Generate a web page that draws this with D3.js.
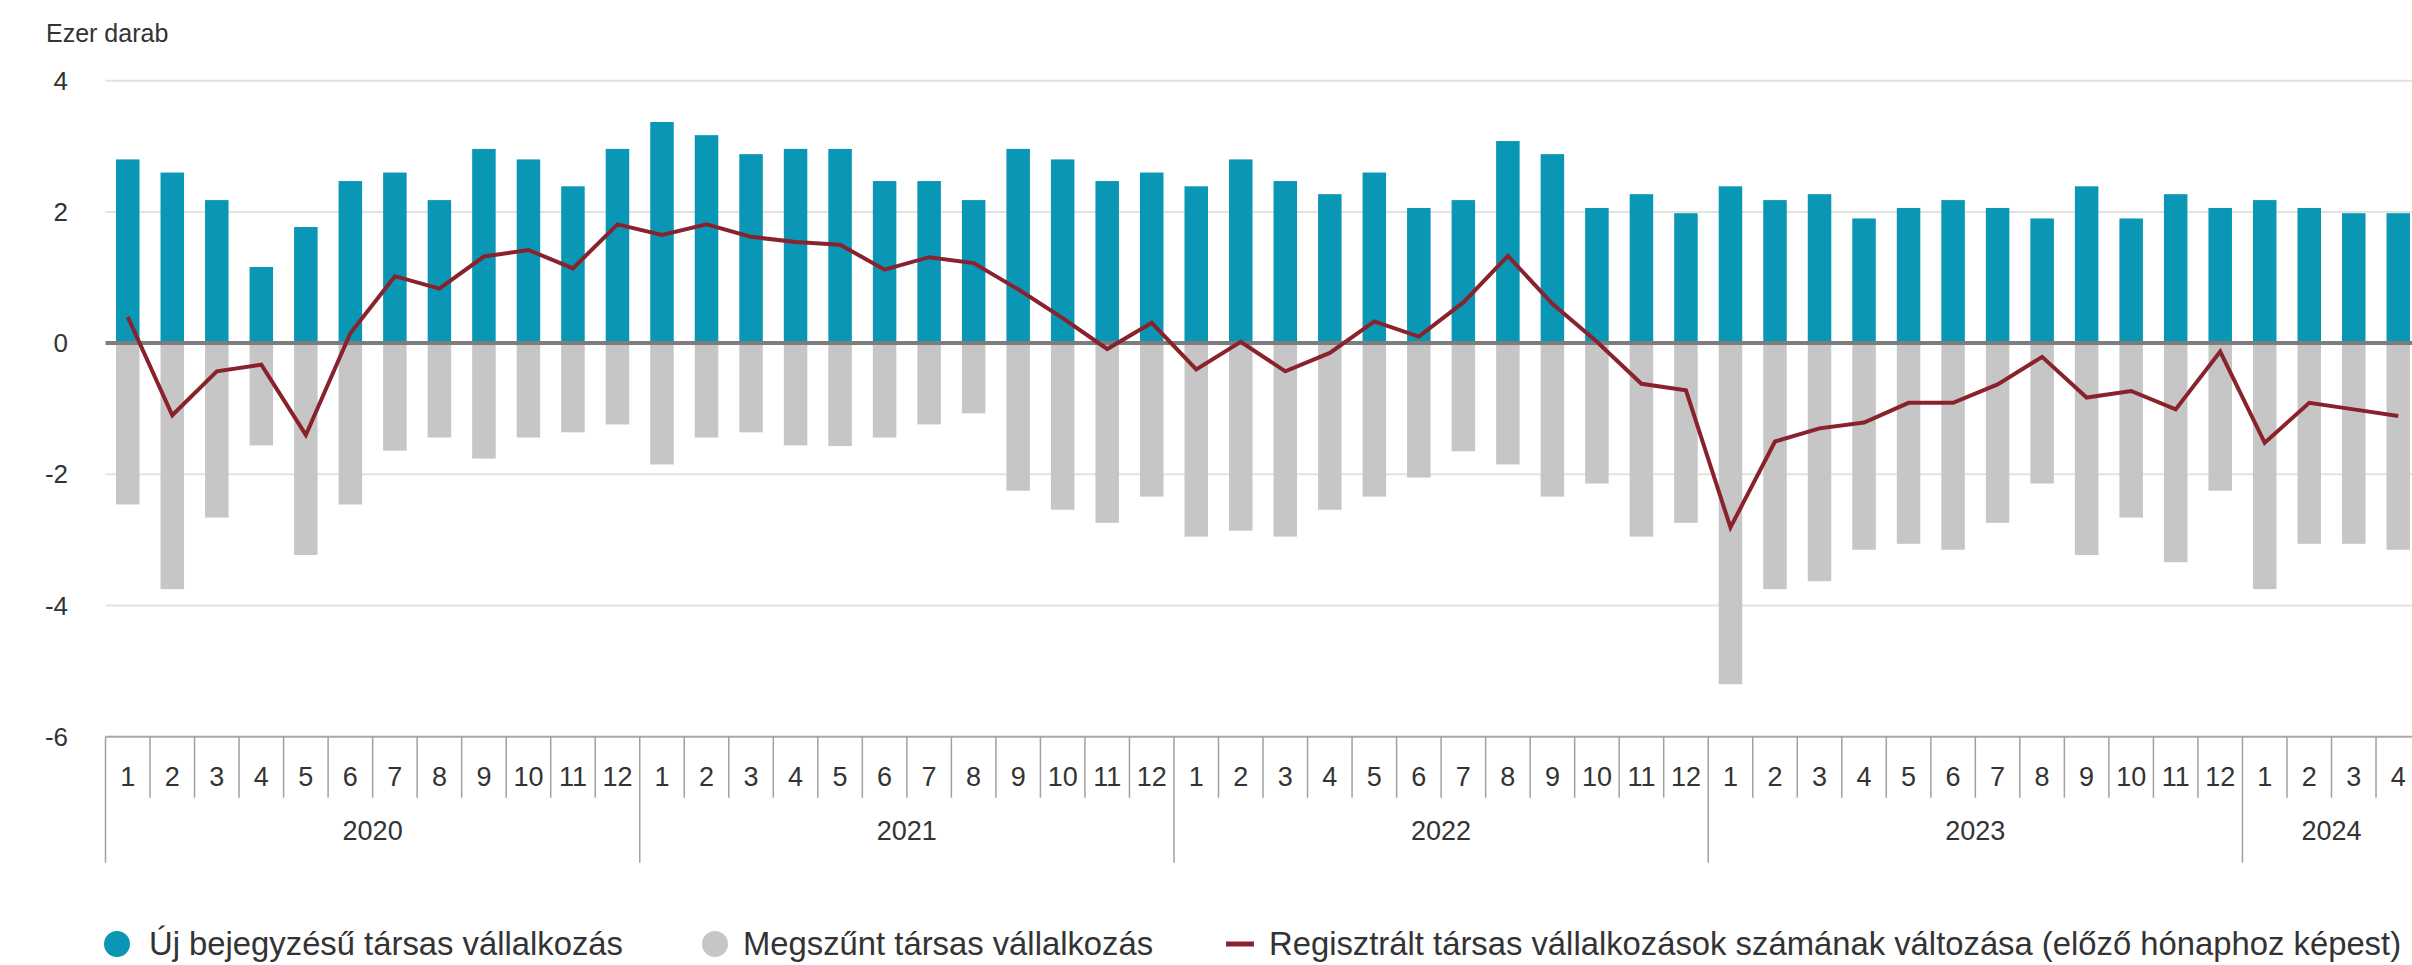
<!DOCTYPE html>
<html>
<head>
<meta charset="utf-8">
<script src="https://cdn.jsdelivr.net/npm/d3@7"></script>
<style>
  body { margin: 0; background: #fff; }
  text { font-family: "Liberation Sans", Arial, sans-serif; fill: #333; }
</style>
</head>
<body>
<div id="chart"></div>
<script>
// Havi adatok, ezer darab (2020.01 - 2024.04)
var years = [2020, 2021, 2022, 2023, 2024];
var monthsPerYear = [12, 12, 12, 12, 4];

var ujTarsas = [
  2.8, 2.6, 2.18, 1.16, 1.77, 2.47, 2.6, 2.18, 2.96, 2.8, 2.39, 2.96,
  3.37, 3.17, 2.88, 2.96, 2.96, 2.47, 2.47, 2.18, 2.96, 2.8, 2.47, 2.6,
  2.39, 2.8, 2.47, 2.27, 2.6, 2.06, 2.18, 3.08, 2.88, 2.06, 2.27, 1.98,
  2.39, 2.18, 2.27, 1.9, 2.06, 2.18, 2.06, 1.9, 2.39, 1.9, 2.27, 2.06,
  2.18, 2.06, 1.98, 1.98
];
var megszunt = [
  -2.46, -3.75, -2.66, -1.56, -3.23, -2.46, -1.64, -1.44, -1.76, -1.44, -1.36, -1.24,
  -1.85, -1.44, -1.36, -1.56, -1.57, -1.44, -1.24, -1.07, -2.25, -2.54, -2.74, -2.34,
  -2.95, -2.86, -2.95, -2.54, -2.34, -2.05, -1.65, -1.85, -2.34, -2.14, -2.95, -2.74,
  -5.2, -3.75, -3.63, -3.15, -3.06, -3.15, -2.74, -2.14, -3.23, -2.66, -3.34, -2.25,
  -3.75, -3.06, -3.06, -3.15
];
var valtozas = [
  0.4, -1.1, -0.43, -0.33, -1.4, 0.15, 1.02, 0.83, 1.32, 1.42, 1.14, 1.81,
  1.65, 1.81, 1.62, 1.54, 1.5, 1.12, 1.31, 1.22, 0.82, 0.38, -0.09, 0.31,
  -0.4, 0.02, -0.43, -0.15, 0.33, 0.1, 0.62, 1.33, 0.6, 0.02, -0.62, -0.72,
  -2.81, -1.5, -1.3, -1.21, -0.91, -0.91, -0.63, -0.21, -0.83, -0.73, -1.01, -0.13,
  -1.52, -0.91, -1.01, -1.11
];
var yTicks = [4, 2, 0, -2, -4, -6];

var seriesNames = [
  "Új bejegyzésű társas vállalkozás",
  "Megszűnt társas vállalkozás",
  "Regisztrált társas vállalkozások számának változása (előző hónaphoz képest)"
];
var colors = ["#0a96b5", "#c6c6c6", "#8a222d"];

// month keys like "2020-1"
var keys = [];
years.forEach(function(y, i) {
  for (var m = 1; m <= monthsPerYear[i]; m++) keys.push(y + "-" + m);
});

var width = 2412, height = 965;
var x0 = 105.5, step = 44.52;

var svg = d3.select("#chart").append("svg")
  .attr("width", width)
  .attr("height", height);

var x = d3.scaleBand()
  .domain(keys)
  .range([x0, x0 + step * keys.length])
  .paddingInner(0.472)
  .paddingOuter(0.236);

var y = d3.scaleLinear()
  .domain([-6, 4])
  .range([736.7, 80.7]);

// unit label
svg.append("text")
  .attr("x", 46)
  .attr("y", 42)
  .style("font-size", "25px")
  .text("Ezer darab");

// gridlines
svg.append("g").selectAll("line")
  .data(yTicks.filter(function(d) { return d !== 0 && d !== -6; }))
  .enter().append("line")
  .attr("x1", x0).attr("x2", width)
  .attr("y1", y).attr("y2", y)
  .style("stroke", "#e2e2e2")
  .style("stroke-width", "2px");

// y tick labels
svg.append("g").selectAll("text")
  .data(yTicks)
  .enter().append("text")
  .attr("x", 68)
  .attr("y", y)
  .attr("dy", "0.35em")
  .style("text-anchor", "end")
  .style("font-size", "26px")
  .text(function(d) { return d; });

// positive bars
svg.append("g").selectAll("rect")
  .data(ujTarsas)
  .enter().append("rect")
  .attr("x", function(d, i) { return x(keys[i]); })
  .attr("y", function(d) { return y(d); })
  .attr("width", x.bandwidth())
  .attr("height", function(d) { return y(0) - y(d); })
  .style("fill", colors[0]);

// negative bars
svg.append("g").selectAll("rect")
  .data(megszunt)
  .enter().append("rect")
  .attr("x", function(d, i) { return x(keys[i]); })
  .attr("y", y(0))
  .attr("width", x.bandwidth())
  .attr("height", function(d) { return y(d) - y(0); })
  .style("fill", colors[1]);

// zero line
svg.append("line")
  .attr("x1", x0).attr("x2", width)
  .attr("y1", y(0)).attr("y2", y(0))
  .style("stroke", "#7d7d7d")
  .style("stroke-width", "4px");

// net change line
var line = d3.line()
  .x(function(d, i) { return x(keys[i]) + x.bandwidth() / 2; })
  .y(function(d) { return y(d); });

svg.append("path")
  .datum(valtozas)
  .attr("d", line)
  .style("fill", "none")
  .style("stroke", colors[2])
  .style("stroke-width", "4px")
  .style("stroke-linejoin", "miter");

// bottom axis line
var axisY = y(-6);
svg.append("line")
  .attr("x1", x0).attr("x2", width)
  .attr("y1", axisY).attr("y2", axisY)
  .style("stroke", "#a8a8a8")
  .style("stroke-width", "2px");

// month separators and labels
var axis = svg.append("g");
keys.forEach(function(k, i) {
  var m = +k.split("-")[1];
  var left = x(k) - x.step() * x.paddingInner() / 2;
  axis.append("line")
    .attr("x1", left).attr("x2", left)
    .attr("y1", axisY).attr("y2", m === 1 ? axisY + 126 : axisY + 61)
    .style("stroke", "#a0a0a0")
    .style("stroke-width", "1.5px");
  axis.append("text")
    .attr("x", x(k) + x.bandwidth() / 2)
    .attr("y", axisY + 40)
    .attr("dy", "0.35em")
    .style("text-anchor", "middle")
    .style("font-size", "27px")
    .text(m);
});

// year labels
var idx = 0;
years.forEach(function(yr, i) {
  var first = keys[idx], last = keys[idx + monthsPerYear[i] - 1];
  var a = x(first) - x.step() * x.paddingInner() / 2;
  var b = x(last) + x.bandwidth() + x.step() * x.paddingInner() / 2;
  axis.append("text")
    .attr("x", (a + b) / 2)
    .attr("y", axisY + 94)
    .attr("dy", "0.35em")
    .style("text-anchor", "middle")
    .style("font-size", "27px")
    .text(yr);
  idx += monthsPerYear[i];
});

// legend
var legend = svg.append("g").attr("transform", "translate(0,944)");
var lx = [117, 715, 1226];
var tx = [149, 743, 1269];

legend.append("circle").attr("cx", lx[0]).attr("cy", 0).attr("r", 13).style("fill", colors[0]);
legend.append("circle").attr("cx", lx[1]).attr("cy", 0).attr("r", 13).style("fill", colors[1]);
legend.append("line")
  .attr("x1", lx[2]).attr("x2", lx[2] + 28)
  .attr("y1", 0).attr("y2", 0)
  .style("stroke", colors[2])
  .style("stroke-width", "5px");

legend.selectAll("text")
  .data(seriesNames)
  .enter().append("text")
  .attr("x", function(d, i) { return tx[i]; })
  .attr("y", 0)
  .attr("dy", "0.35em")
  .style("font-size", "32.8px")
  .text(function(d) { return d; });
</script>
</body>
</html>
